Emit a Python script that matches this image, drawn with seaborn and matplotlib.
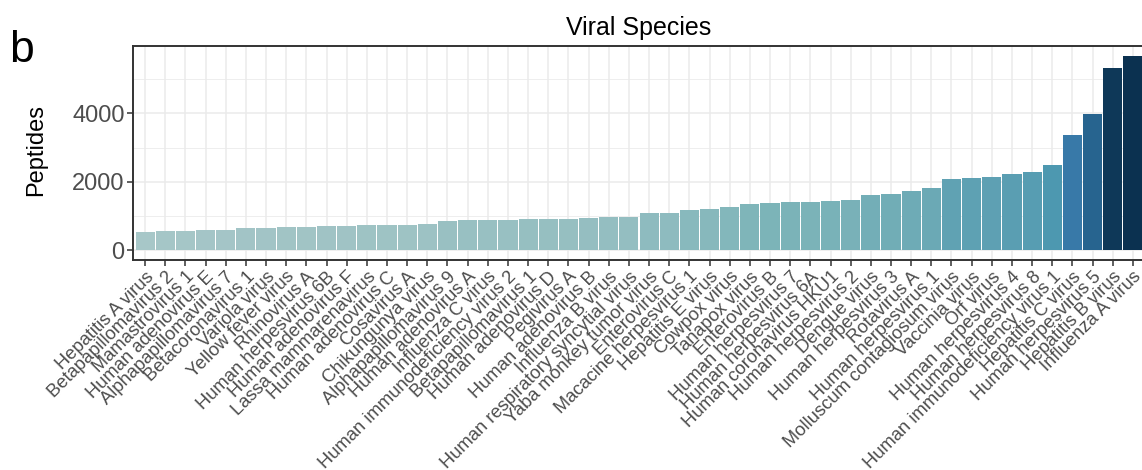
import numpy as np
import pandas as pd
import matplotlib
matplotlib.use("Agg")
import matplotlib.pyplot as plt
from matplotlib.colors import LinearSegmentedColormap, Normalize
from matplotlib.ticker import MultipleLocator
import seaborn as sns

species = [
    "Hepatitis A virus", "Betapapillomavirus 2", "Mamastrovirus 1", "Human adenovirus E",
    "Alphapapillomavirus 7", "Betacoronavirus 1", "Variola virus", "Yellow fever virus",
    "Rhinovirus A", "Human herpesvirus 6B", "Human adenovirus F", "Lassa mammarenavirus",
    "Human adenovirus C", "Cosavirus A", "Chikungunya virus", "Alphapapillomavirus 9",
    "Human adenovirus A", "Influenza C virus", "Human immunodeficiency virus 2",
    "Betapapillomavirus 1", "Human adenovirus D", "Pegivirus A", "Human adenovirus B",
    "Influenza B virus", "Human respiratory syncytial virus", "Yaba monkey tumor virus",
    "Enterovirus C", "Macacine herpesvirus 1", "Hepatitis E virus", "Cowpox virus",
    "Tanapox virus", "Enterovirus B", "Human herpesvirus 7", "Human herpesvirus 6A",
    "Human coronavirus HKU1", "Human herpesvirus 2", "Dengue virus", "Human herpesvirus 3",
    "Rotavirus A", "Human herpesvirus 1", "Molluscum contagiosum virus", "Vaccinia virus",
    "Orf virus", "Human herpesvirus 4", "Human herpesvirus 8",
    "Human immunodeficiency virus 1", "Hepatitis C virus", "Human herpesvirus 5",
    "Hepatitis B virus", "Influenza A virus",
]

peptides = [
    537, 566, 566, 595, 595, 644, 644, 673, 673, 703,
    703, 732, 732, 732, 761, 849, 878, 878, 878, 908,
    908, 908, 937, 966, 966, 1083, 1083, 1171, 1200, 1259,
    1347, 1376, 1405, 1405, 1435, 1464, 1610, 1640, 1728, 1815,
    2079, 2108, 2137, 2225, 2284, 2489, 3367, 3982, 5330, 5681,
]

# fill gradient anchors (peptide count -> colour)
grad_values = [500, 1000, 1400, 2100, 2500, 3370, 3980, 5330, 5700]
grad_colors = ["#a8c7c8", "#92bdc0", "#7bb3b8", "#5fa1b3", "#4c97b0",
               "#3879a8", "#27648f", "#0e3858", "#0b3150"]

lo, hi = grad_values[0], grad_values[-1]
cmap = LinearSegmentedColormap.from_list(
    "viral", [((v - lo) / (hi - lo), c) for v, c in zip(grad_values, grad_colors)])
norm = Normalize(lo, hi)

df = pd.DataFrame({"species": species, "peptides": peptides})
bar_colors = {s: cmap(norm(v)) for s, v in zip(species, peptides)}

sns.set_theme(style="white")
plt.rcParams["font.family"] = ["Liberation Sans", "DejaVu Sans"]

fig = plt.figure(figsize=(11.42, 4.70), dpi=100)
ax = fig.add_axes([133 / 1142, 210 / 470, (1145 - 133) / 1142, 214 / 470])

sns.barplot(data=df, x="species", y="peptides", hue="species", palette=bar_colors,
            order=species, hue_order=species, legend=False, width=0.95,
            saturation=1, edgecolor="none", ax=ax)

ymax = max(peptides)
ax.set_xlim(-0.6, len(species) - 0.4)
ax.set_ylim(-0.05 * ymax, 1.05 * ymax)

ax.yaxis.set_major_locator(MultipleLocator(2000))
ax.yaxis.set_minor_locator(MultipleLocator(1000))
ax.set_axisbelow(True)
ax.grid(True, which="major", axis="both", color="#ebebeb", linewidth=1.1)
ax.grid(True, which="minor", axis="y", color="#ebebeb", linewidth=0.6)

for side in ax.spines.values():
    side.set_color("#333333")
    side.set_linewidth(1.4)

ax.tick_params(axis="y", which="major", length=4, width=1.1, color="#333333",
               labelsize=17, labelcolor="#4d4d4d", pad=2, left=True)
ax.tick_params(axis="y", which="minor", length=0)
ax.tick_params(axis="x", length=4, width=1.1, color="#333333", labelsize=13.2,
               labelcolor="#4d4d4d", pad=2, bottom=True)
ax.set_xticks(range(len(species)))
ax.set_xticklabels(species, rotation=45, ha="right", va="top", rotation_mode="anchor")

ax.set_xlabel("")
ax.set_ylabel("")
ax.set_title("Viral Species", fontsize=18, color="black", pad=8)

fig.text(36 / 1142, 1 - 150 / 470, "Peptides", rotation=90, fontsize=17,
         ha="center", va="center", color="black")
fig.text(9 / 1142, 1 - 62 / 470, "b", fontsize=32, ha="left", va="baseline",
         color="black")

fig.savefig("out.png", dpi=100)
